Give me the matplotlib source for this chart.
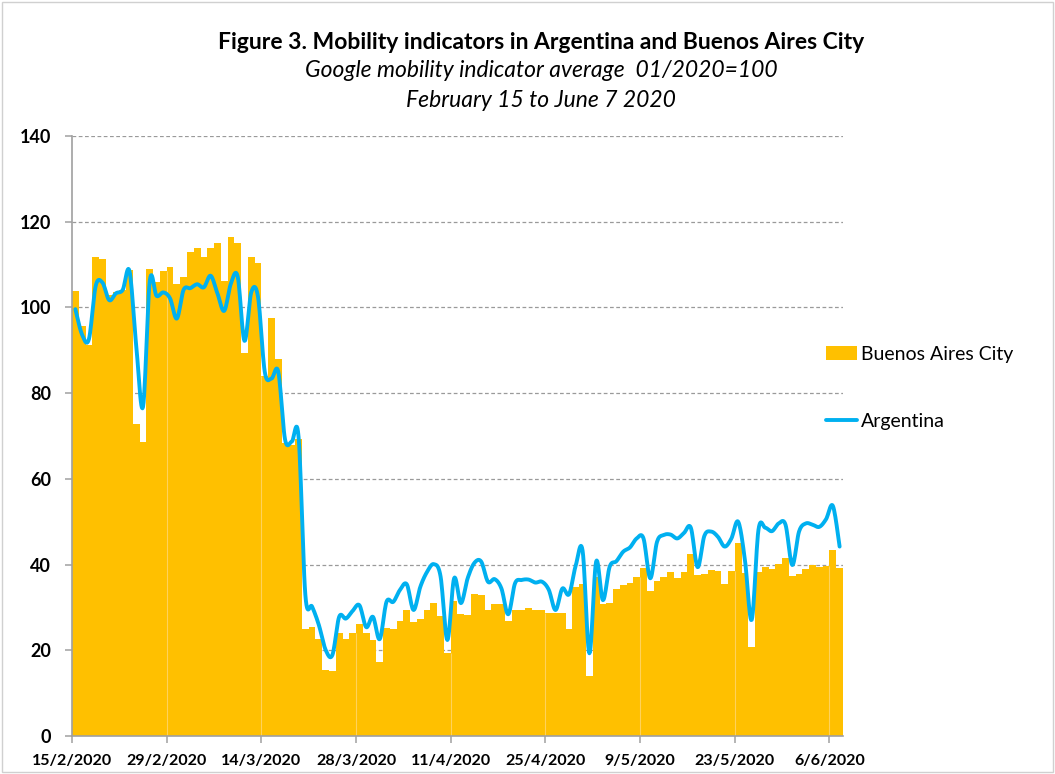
import numpy as np
import pandas as pd
import matplotlib
matplotlib.use("Agg")
import matplotlib.pyplot as plt
from matplotlib.patches import Rectangle

plt.rcParams['font.family'] = ['Lato', 'DejaVu Sans']

# daily categories, 15 Feb - 7 Jun 2020
dates = pd.date_range("2020-02-15", "2020-06-07", freq="D")
tick_labels = ["15/2/2020", "29/2/2020", "14/3/2020", "28/3/2020", "11/4/2020",
               "25/4/2020", "9/5/2020", "23/5/2020", "6/6/2020"]

buenos_aires = [
    103.8, 95.7, 91.2, 111.7, 111.4, 102.9, 103.7, 104.0, 108.7, 72.9,
    68.5, 108.9, 106.0, 108.4, 109.5, 105.4, 107.2, 112.9, 113.9, 111.7,
    113.9, 115.0, 106.2, 116.4, 115.0, 89.4, 111.7, 110.3, 84.0, 97.5,
    87.9, 68.3, 68.0, 69.2, 24.9, 25.5, 22.6, 15.4, 15.2, 24.0,
    22.7, 24.0, 26.1, 24.0, 22.4, 17.3, 25.1, 25.0, 26.8, 29.3,
    26.6, 27.3, 29.4, 31.0, 28.0, 19.4, 31.5, 28.4, 28.3, 33.1,
    32.8, 29.4, 30.7, 30.7, 26.9, 29.5, 29.5, 29.9, 29.5, 29.5,
    28.7, 28.7, 28.7, 25.0, 34.8, 35.5, 14.1, 37.0, 30.7, 31.1,
    34.3, 35.2, 35.8, 37.1, 39.3, 33.8, 36.2, 37.2, 38.3, 36.9,
    38.3, 42.5, 37.6, 37.7, 38.7, 38.6, 35.4, 38.5, 45.1, 38.0,
    20.8, 38.3, 39.5, 39.0, 40.1, 41.5, 37.3, 37.7, 39.0, 40.0,
    39.4, 39.7, 43.5, 39.3]

argentina = [
    99.6, 93.6, 92.6, 105.0, 105.8, 101.7, 103.3, 104.1, 108.5, 91.0,
    76.8, 106.2, 102.7, 103.5, 102.1, 97.4, 104.1, 104.5, 105.4, 104.7,
    107.4, 103.3, 99.2, 105.6, 107.2, 92.2, 103.5, 102.5, 85.0, 83.4,
    85.0, 69.2, 68.7, 69.8, 33.0, 30.2, 25.9, 20.1, 18.9, 27.8,
    27.4, 29.2, 30.5, 25.4, 27.8, 22.6, 31.3, 31.3, 34.1, 35.4,
    29.4, 34.8, 38.3, 40.1, 37.2, 22.4, 36.8, 31.0, 36.8, 40.4,
    40.7, 36.0, 36.6, 34.4, 28.4, 35.6, 36.4, 36.5, 35.8, 36.0,
    34.1, 29.4, 34.4, 33.1, 39.9, 43.2, 19.3, 40.7, 31.7, 39.5,
    40.8, 43.0, 44.0, 46.1, 46.1, 36.8, 45.3, 46.9, 47.0, 46.1,
    47.4, 48.6, 39.4, 46.7, 47.7, 46.5, 44.2, 46.1, 50.0, 41.1,
    27.1, 48.1, 48.6, 47.8, 49.6, 49.3, 39.9, 47.7, 49.6, 49.3,
    48.8, 50.6, 53.7, 44.2]


def smooth(xs, ys, n=12):
    # catmull-rom curve through the points (like Excel's smoothed line)
    xs = np.asarray(xs, float)
    ys = np.asarray(ys, float)
    px = np.concatenate([[xs[0]], xs, [xs[-1]]])
    py = np.concatenate([[ys[0]], ys, [ys[-1]]])
    ox, oy = [], []
    t = np.linspace(0, 1, n, endpoint=False)
    for k in range(1, len(px) - 2):
        for arr, out in ((px, ox), (py, oy)):
            p0, p1, p2, p3 = arr[k - 1], arr[k], arr[k + 1], arr[k + 2]
            out.extend(0.5 * (2 * p1 + (-p0 + p2) * t
                              + (2 * p0 - 5 * p1 + 4 * p2 - p3) * t ** 2
                              + (-p0 + 3 * p1 - 3 * p2 + p3) * t ** 3))
    ox.append(xs[-1])
    oy.append(ys[-1])
    return np.array(ox), np.array(oy)


fig = plt.figure(figsize=(10.55, 7.74), dpi=100)
ax = fig.add_axes([72 / 1055, 1 - 736 / 774, (843 - 72) / 1055, 600 / 774])

x = np.arange(len(dates))
bars = ax.bar(x, buenos_aires, width=1.0, align="edge", color="#FFC000",
              label="Buenos Aires City", zorder=2)
sx, sy = smooth(x + 0.5, argentina)
line, = ax.plot(sx, sy, color="#00B0F0", lw=2.8, label="Argentina", zorder=4,
                solid_capstyle="round", solid_joinstyle="round")

ticks = np.arange(0, len(dates), 14)
# faint seams inside the bars at the date ticks
for t in ticks[1:]:
    ax.vlines(t, 0, min(buenos_aires[t - 1], buenos_aires[t]),
              color="#FFD25A", lw=0.8, zorder=3)

ax.set_xlim(0, len(dates))
ax.set_ylim(0, 140)
ax.set_yticks(range(0, 141, 20))
ax.yaxis.grid(True, color="#9A9A9A", ls=(0, (3, 2)), lw=0.9, zorder=1)
ax.set_axisbelow(True)
ax.set_xticks(ticks)
ax.set_xticklabels(tick_labels)
for s in ["top", "right"]:
    ax.spines[s].set_visible(False)
for s in ["left", "bottom"]:
    ax.spines[s].set_color("#A0A0A0")
    ax.spines[s].set_linewidth(1.2)
    ax.spines[s].set_zorder(5)
ax.tick_params(axis="both", colors="#A0A0A0", length=5, width=1.1,
               labelcolor="black")
ax.tick_params(axis="y", pad=10, labelsize=13)
ax.tick_params(axis="x", pad=8, labelsize=11.5)
for lab in ax.get_xticklabels() + ax.get_yticklabels():
    lab.set_fontweight("bold")

fig.text(0.513, 0.945, "Figure 3. Mobility indicators in Argentina and Buenos Aires City",
         ha="center", va="center", fontsize=16.5, fontweight="bold")
fig.text(0.513, 0.909, "Google mobility indicator average  01/2020=100",
         ha="center", va="center", fontsize=16.5, style="italic")
fig.text(0.513, 0.870, "February 15 to June 7 2020",
         ha="center", va="center", fontsize=16.5, style="italic")

fig.legend(handles=[bars, line], labels=["Buenos Aires City", "Argentina"],
           loc="center left", bbox_to_anchor=(826 / 1055, 1 - 388 / 774),
           frameon=False, fontsize=14, handlelength=1.6, handletextpad=0.2,
           labelspacing=2.6, handleheight=0.7, borderpad=0, borderaxespad=0)

fig.patches.append(Rectangle((0.002, 0.002), 0.996, 0.996, transform=fig.transFigure,
                             fill=False, edgecolor="#D0D0D0", lw=1))

fig.savefig("out.png", dpi=100)
